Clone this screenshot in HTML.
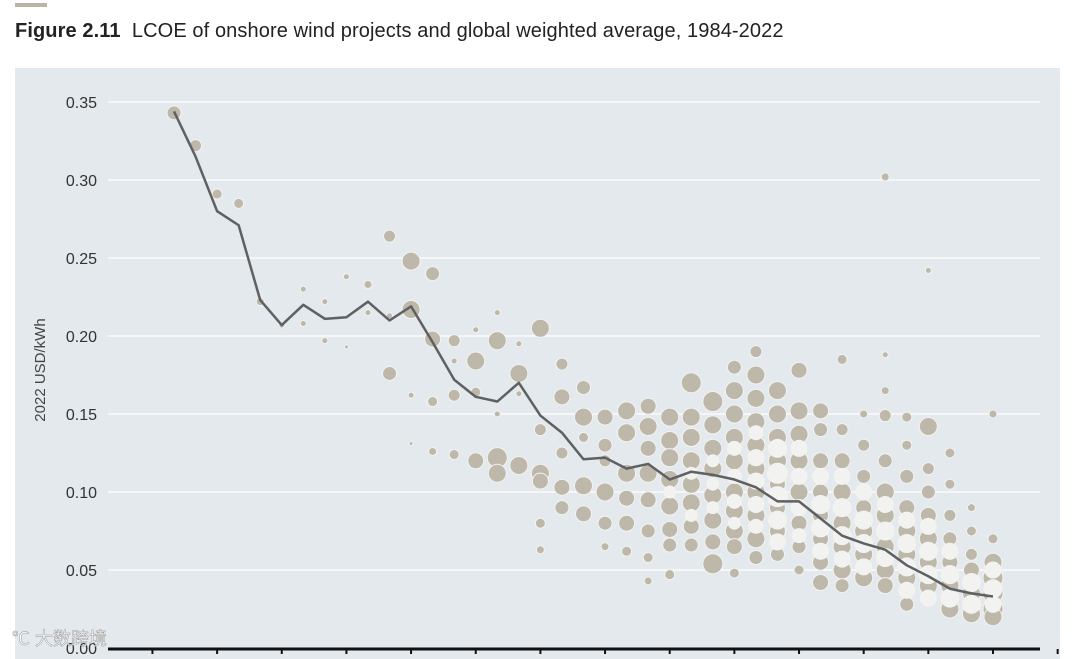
<!DOCTYPE html>
<html><head><meta charset="utf-8">
<style>
body{margin:0;width:1080px;height:659px;background:#fff;overflow:hidden;font-family:"Liberation Sans","Noto Sans CJK SC",sans-serif;}
#bar{position:absolute;left:15px;top:3px;width:32px;height:4px;background:#b8b4a8;}
#title{position:absolute;left:15px;top:20px;font-size:20px;color:#222;letter-spacing:0.1px;}
svg{position:absolute;left:0;top:0;}
</style></head><body>
<div id="bar"></div>
<div id="title"><b>Figure 2.11</b>&nbsp; LCOE of onshore wind projects and global weighted average, 1984-2022</div>
<svg id="chart" width="1080" height="659"></svg>
<script>
const years=[1984,1985,1986,1987,1988,1989,1990,1991,1992,1993,1994,1995,1996,1997,1998,1999,2000,2001,2002,2003,2004,2005,2006,2007,2008,2009,2010,2011,2012,2013,2014,2015,2016,2017,2018,2019,2020,2021,2022];
const avgLcoe=[0.344,0.315,0.280,0.271,0.223,0.207,0.220,0.211,0.212,0.222,0.210,0.219,0.196,0.172,0.161,0.158,0.170,0.149,0.138,0.121,0.122,0.115,0.118,0.108,0.113,0.111,0.108,0.103,0.094,0.094,0.083,0.072,0.067,0.063,0.053,0.046,0.038,0.035,0.033];
const yTicks=[0,0.05,0.10,0.15,0.20,0.25,0.30,0.35];
const yTickLabels=["0.00","0.05","0.10","0.15","0.20","0.25","0.30","0.35"];
// projects: [year, lcoe, radius, white(1)/taupe(0)]
const projects=[
[1984,0.343,7,0],[1985,0.322,6,0],[1986,0.291,5,0],[1987,0.285,5,0],[1988,0.222,4,0],[1989,0.207,3,0],
[1990,0.230,3,0],[1990,0.208,3,0],[1991,0.222,3,0],[1991,0.197,3,0],[1992,0.238,3,0],[1992,0.193,2,0],
[1993,0.233,4,0],[1993,0.215,3,0],[1994,0.264,6,0],[1994,0.176,7,0],[1994,0.213,3,0],
[1995,0.248,9,0],[1995,0.217,9,0],[1995,0.162,3,0],[1995,0.131,2,0],
[1996,0.240,7,0],[1996,0.198,8,0],[1996,0.158,5,0],[1996,0.126,4,0],
[1997,0.197,6,0],[1997,0.184,3,0],[1997,0.162,6,0],[1997,0.124,5,0],
[1998,0.184,9,0],[1998,0.164,5,0],[1998,0.120,8,0],[1998,0.204,3,0],
[1999,0.197,9,0],[1999,0.122,10,0],[1999,0.112,9,0],[1999,0.150,3,0],[1999,0.215,3,0],
[2000,0.176,9,0],[2000,0.117,9,0],[2000,0.163,3,0],[2000,0.195,3,0],
[2001,0.205,9,0],[2001,0.112,9,0],[2001,0.140,6,0],[2001,0.107,8,0],[2001,0.080,5,0],[2001,0.063,4,0],
[2002,0.182,6,0],[2002,0.161,8,0],[2002,0.125,6,0],[2002,0.103,8,0],[2002,0.090,7,0],
[2003,0.167,7,0],[2003,0.148,9,0],[2003,0.135,5,0],[2003,0.104,9,0],[2003,0.086,8,0],
[2004,0.148,8,0],[2004,0.130,7,0],[2004,0.120,6,0],[2004,0.100,9,0],[2004,0.080,7,0],[2004,0.065,4,0],
[2005,0.152,9,0],[2005,0.138,9,0],[2005,0.112,9,0],[2005,0.096,8,0],[2005,0.080,8,0],[2005,0.062,5,0],
[2006,0.155,8,0],[2006,0.142,9,0],[2006,0.128,8,0],[2006,0.112,9,0],[2006,0.095,8,0],[2006,0.075,7,0],[2006,0.058,5,0],[2006,0.043,4,0],
[2007,0.148,9,0],[2007,0.133,9,0],[2007,0.122,9,0],[2007,0.108,9,0],[2007,0.091,9,0],[2007,0.076,8,0],[2007,0.066,7,0],[2007,0.047,5,0],[2007,0.100,6,1],
[2008,0.170,10,0],[2008,0.148,9,0],[2008,0.135,9,0],[2008,0.120,9,0],[2008,0.105,9,0],[2008,0.093,9,0],[2008,0.078,8,0],[2008,0.066,7,0],[2008,0.112,6,1],[2008,0.085,6,1],
[2009,0.158,10,0],[2009,0.143,9,0],[2009,0.128,9,0],[2009,0.115,9,0],[2009,0.098,9,0],[2009,0.082,9,0],[2009,0.068,8,0],[2009,0.054,10,0],[2009,0.120,6,1],[2009,0.090,6,1],[2009,0.105,6,1],
[2010,0.180,7,0],[2010,0.165,9,0],[2010,0.150,9,0],[2010,0.135,9,0],[2010,0.120,9,0],[2010,0.100,9,0],[2010,0.088,9,0],[2010,0.075,9,0],[2010,0.065,8,0],[2010,0.048,5,0],[2010,0.128,7,1],[2010,0.110,7,1],[2010,0.094,7,1],[2010,0.080,6,1],
[2011,0.190,6,0],[2011,0.175,9,0],[2011,0.160,9,0],[2011,0.145,9,0],[2011,0.130,9,0],[2011,0.115,9,0],[2011,0.100,9,0],[2011,0.085,9,0],[2011,0.070,9,0],[2011,0.058,7,0],[2011,0.138,7,1],[2011,0.122,8,1],[2011,0.107,8,1],[2011,0.092,8,1],[2011,0.078,7,1],
[2012,0.165,9,0],[2012,0.150,9,0],[2012,0.135,9,0],[2012,0.120,9,0],[2012,0.105,8,0],[2012,0.090,8,0],[2012,0.075,8,0],[2012,0.060,7,0],[2012,0.128,9,1],[2012,0.112,10,1],[2012,0.097,10,1],[2012,0.082,9,1],[2012,0.068,8,1],
[2013,0.178,8,0],[2013,0.152,9,0],[2013,0.137,9,0],[2013,0.120,9,0],[2013,0.100,9,0],[2013,0.080,8,0],[2013,0.065,7,0],[2013,0.050,5,0],[2013,0.128,8,1],[2013,0.110,8,1],[2013,0.090,8,1],[2013,0.072,7,1],
[2014,0.152,8,0],[2014,0.140,7,0],[2014,0.120,8,0],[2014,0.100,8,0],[2014,0.085,8,0],[2014,0.070,8,0],[2014,0.055,8,0],[2014,0.042,8,0],[2014,0.110,8,1],[2014,0.092,9,1],[2014,0.077,9,1],[2014,0.062,8,1],
[2015,0.185,5,0],[2015,0.140,6,0],[2015,0.120,8,0],[2015,0.100,9,0],[2015,0.080,9,0],[2015,0.065,9,0],[2015,0.050,9,0],[2015,0.040,7,0],[2015,0.110,8,1],[2015,0.090,9,1],[2015,0.072,9,1],[2015,0.057,8,1],
[2016,0.150,4,0],[2016,0.130,6,0],[2016,0.110,7,0],[2016,0.090,8,0],[2016,0.075,9,0],[2016,0.060,9,0],[2016,0.045,9,0],[2016,0.100,8,1],[2016,0.082,9,1],[2016,0.067,9,1],[2016,0.052,8,1],
[2017,0.302,4,0],[2017,0.188,3,0],[2017,0.165,4,0],[2017,0.149,6,0],[2017,0.120,7,0],[2017,0.100,9,0],[2017,0.085,9,0],[2017,0.065,9,0],[2017,0.050,9,0],[2017,0.040,8,0],[2017,0.092,8,1],[2017,0.075,9,1],[2017,0.058,9,1],
[2018,0.148,5,0],[2018,0.130,5,0],[2018,0.110,7,0],[2018,0.090,8,0],[2018,0.075,9,0],[2018,0.060,9,0],[2018,0.045,9,0],[2018,0.028,7,0],[2018,0.082,8,1],[2018,0.067,9,1],[2018,0.052,9,1],[2018,0.037,8,1],
[2019,0.242,3,0],[2019,0.142,9,0],[2019,0.115,6,0],[2019,0.100,7,0],[2019,0.085,8,0],[2019,0.070,9,0],[2019,0.055,9,0],[2019,0.040,9,0],[2019,0.078,8,1],[2019,0.062,9,1],[2019,0.047,9,1],[2019,0.032,8,1],
[2020,0.125,5,0],[2020,0.105,5,0],[2020,0.085,6,0],[2020,0.070,7,0],[2020,0.055,8,0],[2020,0.040,9,0],[2020,0.025,9,0],[2020,0.062,8,1],[2020,0.047,9,1],[2020,0.032,9,1],
[2021,0.090,4,0],[2021,0.075,5,0],[2021,0.060,6,0],[2021,0.050,8,0],[2021,0.035,9,0],[2021,0.022,9,0],[2021,0.042,9,1],[2021,0.028,9,1],
[2022,0.150,4,0],[2022,0.070,5,0],[2022,0.055,9,0],[2022,0.045,10,0],[2022,0.035,10,0],[2022,0.025,10,0],[2022,0.020,9,0],[2022,0.050,8,1],[2022,0.038,9,1],[2022,0.028,8,1]
];
const NS="http://www.w3.org/2000/svg";
const svg=document.getElementById('chart');
const X=y=>174+(y-1984)*(993-174)/38;
const Y=v=>648-v*1560;
function mk(t,a,p){const e=document.createElementNS(NS,t);for(const k in a)e.setAttribute(k,a[k]);(p||svg).appendChild(e);return e;}
const bg=mk('rect',{x:15,y:68,width:1045,height:591,fill:'#e3e9ed'});


yTicks.forEach((t,i)=>{
  if(t>0){const g=mk('line',{x1:108,x2:1040,y1:Y(t),y2:Y(t),stroke:'#fff','stroke-width':1.2});
  
  }
  const l=mk('text',{x:97,y:Y(t)+6,'text-anchor':'end','font-size':16,fill:'#333'});
  l.textContent=yTickLabels[i];
  
  
});
const yt=mk('text',{x:0,y:0,transform:'translate(45,370) rotate(-90)','text-anchor':'middle','font-size':15,fill:'#444'});
yt.textContent='2022 USD/kWh';


const gB=mk('g',{});


projects.forEach(p=>{
  const c=mk('circle',{cx:X(p[0]),cy:Y(p[1]),r:p[2],fill:p[3]?'#f2f3f1':'#bdb8aa',stroke:'#f3f3f0','stroke-width':1},gB);
  
  
});
const line=mk('polyline',{points:years.map((y,i)=>X(y)+','+Y(avgLcoe[i])).join(' '),fill:'none',stroke:'#5f6062','stroke-width':2.5,'stroke-linejoin':'round'});


const ax=mk('line',{x1:108,x2:1040,y1:649,y2:649,stroke:'#111','stroke-width':3});


for(let yr=1983;yr<=2025;yr+=3){
  const t=mk('line',{x1:X(yr),x2:X(yr),y1:649,y2:654,stroke:'#111','stroke-width':2});
  
  
}
const wm=mk('text',{x:12,y:645,'font-size':18,fill:'#ffffff','fill-opacity':0.8,stroke:'#999','stroke-width':0.5});
wm.textContent='℃ 大数跨境';


</script>
</body></html>
